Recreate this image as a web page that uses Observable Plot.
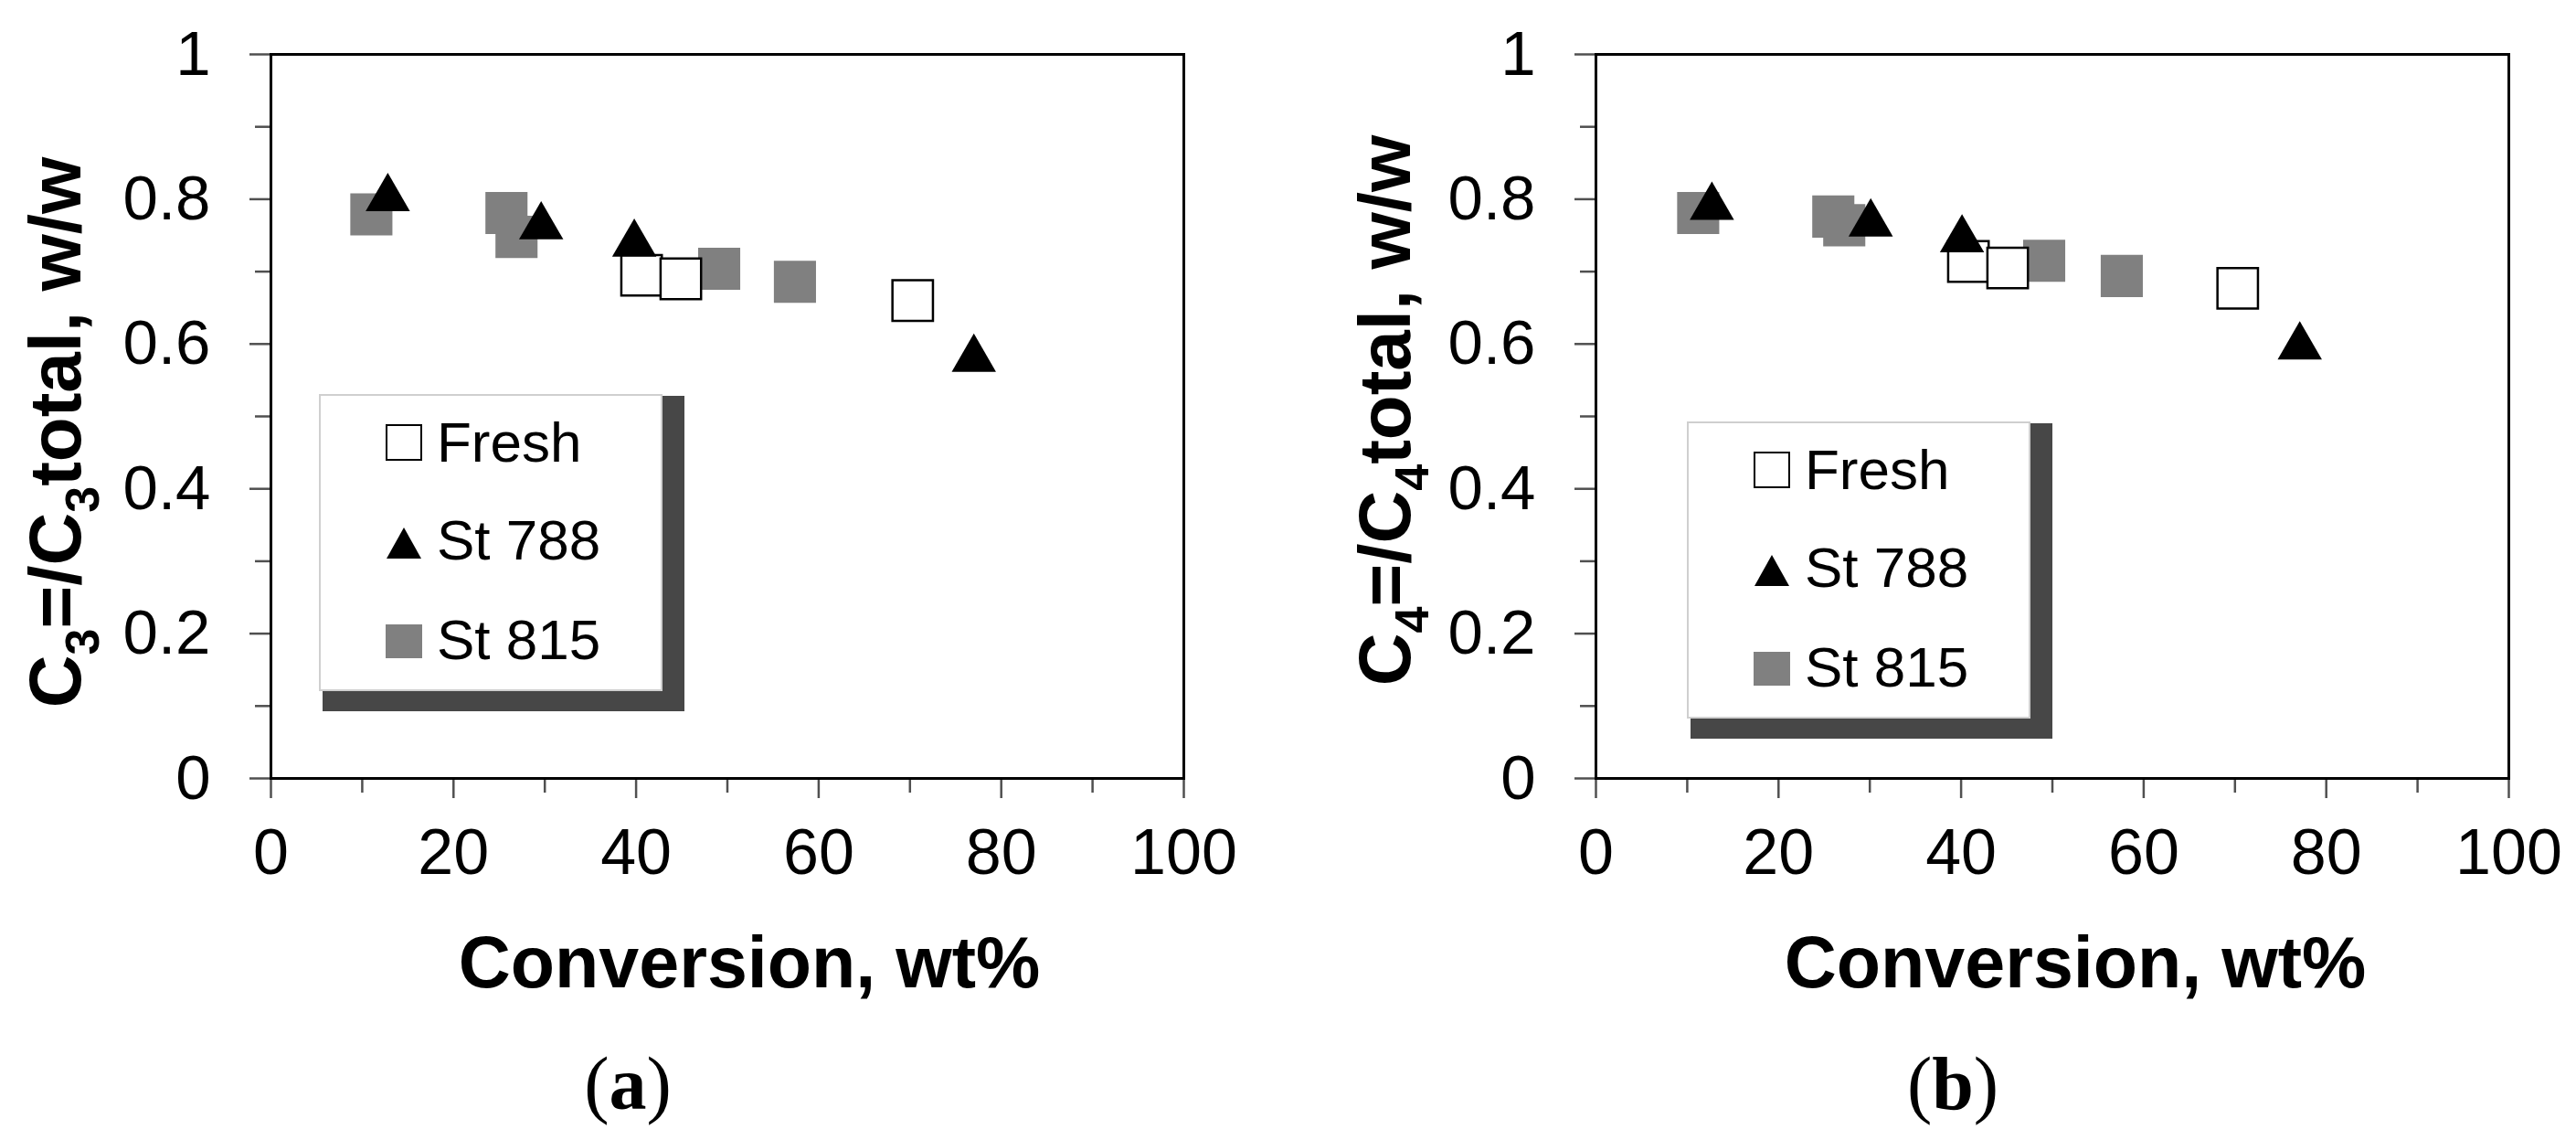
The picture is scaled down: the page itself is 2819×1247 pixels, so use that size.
<!DOCTYPE html>
<html>
<head>
<meta charset="utf-8">
<script src="https://cdn.jsdelivr.net/npm/d3@7"></script>
<script src="https://cdn.jsdelivr.net/npm/@observablehq/plot@0.6"></script>
<style>
  html, body { margin: 0; padding: 0; background: #fff; }
  #root { position: relative; width: 2819px; height: 1247px; background: #fff; overflow: hidden; }
  .panel { position: absolute; top: 0; }
  #overlay { position: absolute; left: 0; top: 0; pointer-events: none; }
</style>
</head>
<body>
<div id="root">
  <div class="panel" id="pa" style="left:0px"></div>
  <div class="panel" id="pb" style="left:1400px"></div>
</div>
<script>
// ---------- data ----------
const seriesNames = ["Fresh", "St 788", "St 815"];

// panel (a): C3=/C3 total vs conversion
const freshA_x = [40.6, 44.9, 70.3];
const freshA_y = [0.695, 0.690, 0.660];
const st788A_x = [12.8, 29.6, 39.8, 77.0];
const st788A_y = [0.810, 0.771, 0.747, 0.588];
const st815A_x = [11.0, 25.8, 26.9, 49.1, 57.4];
const st815A_y = [0.779, 0.781, 0.748, 0.704, 0.686];

// panel (b): C4=/C4 total vs conversion
const freshB_x = [40.8, 45.1, 70.3];
const freshB_y = [0.714, 0.705, 0.677];
const st788B_x = [12.7, 30.1, 40.1, 77.1];
const st788B_y = [0.798, 0.775, 0.753, 0.605];
const st815B_x = [11.2, 26.0, 27.2, 49.1, 57.6];
const st815B_y = [0.781, 0.776, 0.764, 0.715, 0.694];

// ticks
const xMajor = [0, 20, 40, 60, 80, 100];
const xMinor = [10, 30, 50, 70, 90];
const yMajor = [0, 0.2, 0.4, 0.6, 0.8, 1];
const yMinor = [0.1, 0.3, 0.5, 0.7, 0.9];
const yTickLabels = ["0", "0.2", "0.4", "0.6", "0.8", "1"];
const xTickLabels = ["0", "20", "40", "60", "80", "100"];

const rows = (xs, ys) => xs.map((x, i) => ({x, y: ys[i]}));

const SANS = "'Liberation Sans', Arial, Helvetica, sans-serif";
const SERIF = "'Liberation Serif', 'Times New Roman', serif";
const GRAY = "#808080";
const TICK = "#505050";

function panel({width, marginLeft, marginRight, fresh, st788, st815}) {
  return Plot.plot({
    width, height: 1000,
    marginLeft, marginRight, marginTop: 59, marginBottom: 149,
    style: {fontFamily: SANS, background: "white", color: "black", overflow: "visible"},
    x: {domain: [0, 100]},
    y: {domain: [0, 1]},
    marks: [
      Plot.axisY(yMajor, {tickSize: 23, tickPadding: 43, fontSize: 69, stroke: TICK, strokeWidth: 2.5, fill: "black",
        tickFormat: d => yTickLabels[yMajor.indexOf(d)], label: null}),
      Plot.axisY(yMinor, {tickSize: 17, fontSize: 69, stroke: TICK, strokeWidth: 2.5, tickFormat: () => "", label: null}),
      Plot.axisX(xMajor, {tickSize: 22, tickPadding: 33, fontSize: 70, stroke: TICK, strokeWidth: 2.5, fill: "black",
        tickFormat: d => xTickLabels[xMajor.indexOf(d)], label: null}),
      Plot.axisX(xMinor, {tickSize: 16, fontSize: 70, stroke: TICK, strokeWidth: 2.5, tickFormat: () => "", label: null}),
      Plot.frame({stroke: "black", strokeWidth: 3}),
      Plot.dot(st815, {x: "x", y: "y", symbol: "square", r: 26, fill: GRAY}),
      Plot.dot(fresh, {x: "x", y: "y", symbol: "square", r: 25, fill: "white", stroke: "black", strokeWidth: 2.5}),
      Plot.dot(st788, {x: "x", y: "y", symbol: "triangle", r: 18, fill: "black", dy: 7})
    ]
  });
}

document.getElementById("pa").append(panel({
  width: 1400, marginLeft: 296, marginRight: 105,
  fresh: rows(freshA_x, freshA_y), st788: rows(st788A_x, st788A_y), st815: rows(st815A_x, st815A_y)
}));
document.getElementById("pb").append(panel({
  width: 1419, marginLeft: 346, marginRight: 74,
  fresh: rows(freshB_x, freshB_y), st788: rows(st788B_x, st788B_y), st815: rows(st815B_x, st815B_y)
}));

// ---------- overlay: axis titles, legends, panel labels ----------
const svg = d3.select("#root").append("svg")
  .attr("id", "overlay").attr("width", 2819).attr("height", 1247);

function yTitle(x, y, sub) {
  const t = svg.append("text")
    .attr("transform", `translate(${x},${y}) rotate(-90)`)
    .attr("text-anchor", "middle")
    .attr("font-family", SANS).attr("font-weight", "bold").attr("font-size", 80).attr("fill", "black");
  t.append("tspan").text("C");
  t.append("tspan").attr("dy", 20).attr("font-size", 52).text(sub);
  t.append("tspan").attr("dy", -20).text("=/C");
  t.append("tspan").attr("dy", 20).attr("font-size", 52).text(sub);
  t.append("tspan").attr("dy", -20).text("total, w/w");
}
function xTitle(x) {
  svg.append("text").attr("x", x).attr("y", 1080)
    .attr("text-anchor", "middle")
    .attr("font-family", SANS).attr("font-weight", "bold").attr("font-size", 79).attr("fill", "black")
    .text("Conversion, wt%");
}
function panelLabel(x, letter) {
  const t = svg.append("text").attr("x", x).attr("y", 1213)
    .attr("text-anchor", "middle")
    .attr("font-family", SERIF).attr("font-size", 82).attr("fill", "black");
  t.append("tspan").text("(");
  t.append("tspan").attr("font-weight", "bold").text(letter);
  t.append("tspan").text(")");
}
function legend(lx, ly) {
  const g = svg.append("g").attr("transform", `translate(${lx},${ly})`);
  g.append("rect").attr("x", 3).attr("y", 1).attr("width", 396).attr("height", 345).attr("fill", "#474747");
  g.append("rect").attr("x", 0).attr("y", 0).attr("width", 374).attr("height", 323)
    .attr("fill", "white").attr("stroke", "#cfcfcf").attr("stroke-width", 2);
  const mx = 92, tx = 128, base = [73, 180, 289];
  // Fresh: open square
  g.append("rect").attr("x", mx - 19).attr("y", base[0] - 21 - 19).attr("width", 38).attr("height", 38)
    .attr("fill", "white").attr("stroke", "black").attr("stroke-width", 2);
  // St 788: triangle
  g.append("path").attr("d", `M${mx},${base[1] - 35} L${mx + 19},${base[1] - 1} L${mx - 19},${base[1] - 1} Z`).attr("fill", "black");
  // St 815: gray square
  g.append("rect").attr("x", mx - 20).attr("y", base[2] - 20 - 18).attr("width", 40).attr("height", 37).attr("fill", GRAY);
  seriesNames.forEach((name, i) => {
    g.append("text").attr("x", tx).attr("y", base[i])
      .attr("font-family", SANS).attr("font-size", 62).attr("fill", "black").text(name);
  });
}

yTitle(88, 473, "3");
yTitle(1543, 449, "4");
xTitle(820);
xTitle(2271);
legend(350, 432);
legend(1847, 462);
panelLabel(687, "a");
panelLabel(2137, "b");
</script>
</body>
</html>
